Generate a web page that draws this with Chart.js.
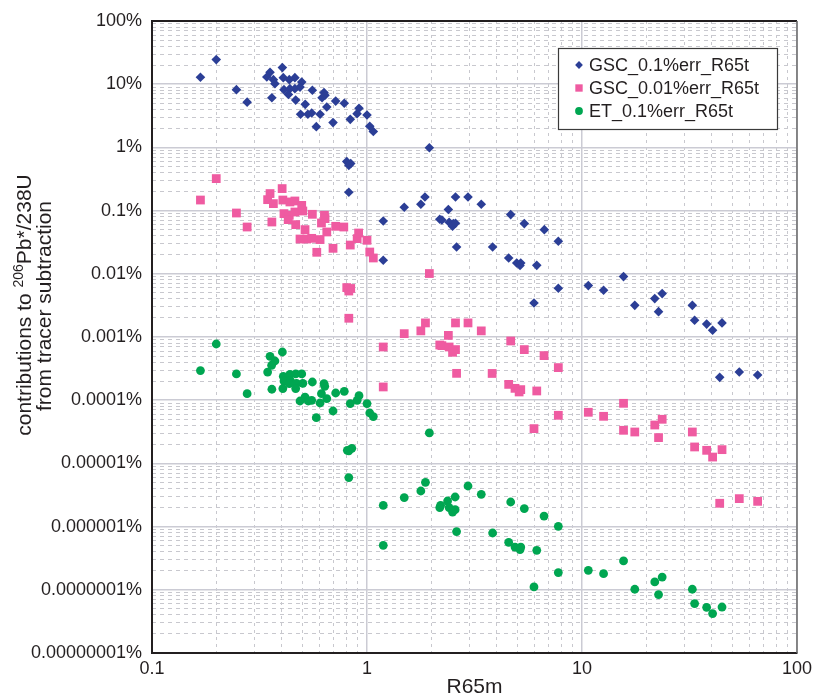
<!DOCTYPE html>
<html>
<head>
<meta charset="utf-8">
<title>R65m vs tracer subtraction contribution</title>
<script src="https://cdn.jsdelivr.net/npm/chart.js@4.4.1/dist/chart.umd.min.js"></script>
<style>
  html, body { margin: 0; padding: 0; background: #fff; }
  #wrap { width: 814px; height: 698px; position: relative; }
</style>
</head>
<body>
<div id="wrap"><canvas id="chart"></canvas></div>
<script>
// values: x = R65m, y = contribution in percent

const seriesNames = ["GSC_0.1%err_R65t", "GSC_0.01%err_R65t", "ET_0.1%err_R65t"];

const gsc01X = [
  0.168, 0.199, 0.247, 0.277, 0.354, 0.342, 0.367, 0.373, 0.404, 0.361,
  0.408, 0.435, 0.462, 0.497, 0.411, 0.438, 0.431, 0.462, 0.488, 0.466,
  0.516, 0.557, 0.491, 0.531, 0.553, 0.581, 0.605, 0.618, 0.631, 0.638,
  0.650, 0.695, 0.715, 0.784, 0.836, 0.899, 0.918, 1.0, 1.03, 1.07,
  0.805, 0.840, 0.823, 0.823, 1.95, 1.19, 1.19, 1.49, 1.78, 1.86,
  2.58, 2.95, 3.40, 2.18, 2.23, 2.39, 2.41, 2.52, 2.50, 2.58,
  2.61, 3.84, 4.56, 4.97, 5.19, 5.15, 6.16, 7.76, 7.76, 5.98,
  4.66, 5.39, 6.68,
  10.7, 12.6, 15.6, 17.6, 21.8, 23.6, 22.7, 32.6, 33.4, 38.0,
  40.5, 44.8, 43.7, 53.9, 65.6
];
const gsc01Y = [
  12.9, 24.5, 8.2, 5.2, 15.4, 13.0, 11.8, 10.2, 18.3, 6.1,
  12.7, 11.8, 12.7, 10.8, 8.2, 8.5, 6.9, 8.5, 9.0, 5.6,
  4.8, 8.0, 3.34, 3.34, 3.5, 2.13, 3.34, 6.1, 7.4, 6.7,
  4.36, 2.47, 5.4, 5.0, 2.78, 3.42, 4.16, 3.26, 2.16, 1.78,
  0.596, 0.554, 0.52, 0.195, 0.99, 0.0685, 0.0164, 0.113, 0.126, 0.164,
  0.164, 0.164, 0.126, 0.073, 0.071, 0.104, 0.0653, 0.0622, 0.0564, 0.063,
  0.0265, 0.0265, 0.0178, 0.0148, 0.0148, 0.0135, 0.0136, 0.0327, 0.0059, 0.00345,
  0.0865, 0.0623, 0.050,
  0.0065, 0.00548, 0.00903, 0.00317, 0.00405, 0.00486, 0.00252, 0.00317, 0.00184, 0.0016,
  0.00128, 0.00167, 0.00023, 0.000279, 0.00025
];

const gsc001X = [
  0.168, 0.199, 0.247, 0.277, 0.354, 0.345, 0.367, 0.361, 0.403, 0.406,
  0.438, 0.462, 0.497, 0.411, 0.435, 0.430, 0.462, 0.503, 0.466, 0.515,
  0.557, 0.488, 0.524, 0.553, 0.584, 0.605, 0.614, 0.634, 0.638, 0.650,
  0.695, 0.715, 0.78, 0.836, 0.90, 0.914, 1.0, 1.03, 1.07,
  0.805, 0.84, 0.823, 0.823, 1.95, 1.19, 1.19, 1.49, 1.78, 1.87,
  2.39, 2.58, 2.95, 3.40, 2.18, 2.23, 2.41, 2.58, 2.50, 2.61,
  3.82, 4.56, 4.88, 5.19, 5.1, 6.16, 4.66, 5.39, 6.66, 7.76,
  7.76, 5.98,
  10.7, 12.6, 15.6, 15.6, 17.6, 21.8, 23.6, 22.7, 32.6, 33.4,
  38.0, 40.5, 44.8, 43.7, 53.9, 65.6
];
const gsc001Y = [
  0.147, 0.321, 0.0916, 0.055, 0.186, 0.149, 0.129, 0.066, 0.223, 0.147,
  0.137, 0.142, 0.121, 0.0896, 0.0843, 0.072, 0.095, 0.0986, 0.060, 0.050,
  0.0874, 0.0355, 0.0355, 0.0364, 0.0219, 0.0348, 0.0637, 0.0843, 0.0747, 0.0459,
  0.0253, 0.0564, 0.055, 0.0285, 0.036, 0.0442, 0.0339, 0.0221, 0.0178,
  0.00605, 0.00586, 0.00534, 0.00198, 0.0101, 0.000695, 0.000162, 0.00113, 0.00125, 0.00167,
  0.00106, 0.00167, 0.00167, 0.00125, 0.000747, 0.00073, 0.000695, 0.000632, 0.000573, 0.000266,
  0.000265, 0.000178, 0.000154, 0.000147, 0.000135, 0.00014, 0.000865, 0.000632, 0.000508, 0.000328,
  0.0000577, 0.0000355,
  0.0000644, 0.0000556, 0.0000893, 0.0000334, 0.0000314, 0.0000405, 0.0000499, 0.0000256, 0.0000314, 0.0000182,
  0.0000161, 0.0000126, 0.0000165, 0.00000234, 0.00000277, 0.00000251
];

const et01X = [
  0.168, 0.199, 0.247, 0.277, 0.354, 0.404, 0.373, 0.36, 0.345, 0.361,
  0.408, 0.438, 0.466, 0.497, 0.411, 0.44, 0.435, 0.47, 0.503, 0.406,
  0.466, 0.557, 0.488, 0.515, 0.533, 0.553, 0.581, 0.605, 0.614, 0.631,
  0.636, 0.65, 0.695, 0.715, 0.784, 0.836, 0.90, 0.918, 1.0, 1.03,
  1.07,
  0.81, 0.85, 0.823, 0.823, 1.95, 1.19, 1.19, 1.49, 1.78, 1.87,
  2.95, 3.40, 2.57, 2.37, 2.18, 2.2, 2.41, 2.5, 2.57, 2.5,
  2.61, 3.84, 4.56, 4.88, 5.19, 5.15, 6.16, 4.66, 5.39, 6.66,
  7.76, 5.98, 7.76,
  10.7, 12.6, 15.6, 17.6, 21.8, 23.6, 22.7, 32.6, 33.4, 38.0,
  40.5, 44.8
];
const et01Y = [
  0.000294, 0.000775, 0.00026, 0.000127, 0.000495, 0.000579, 0.000417, 0.000357, 0.000279, 0.000149,
  0.000239, 0.000257, 0.00026, 0.00026, 0.000201, 0.000205, 0.000183, 0.000185, 0.000185, 0.000153,
  0.000153, 0.000194, 0.0000971, 0.000112, 0.0000971, 0.0000996, 0.000053, 0.0000903, 0.000127, 0.000183,
  0.000166, 0.000106, 0.0000675, 0.00013, 0.000138, 0.0000884, 0.0000996, 0.000118, 0.0000884, 0.0000627,
  0.000055,
  0.0000161, 0.0000173, 0.0000158, 0.00000596, 0.0000303, 0.00000217, 0.000000506, 0.00000288, 0.00000366, 0.00000502,
  0.00000439, 0.00000324, 0.00000294, 0.00000254, 0.0000020, 0.00000217, 0.0000020, 0.00000181, 0.00000185, 0.0000017,
  0.000000834, 0.000000792, 0.000000564, 0.000000475, 0.000000475, 0.000000433, 0.000000422, 0.00000245, 0.00000193, 0.00000147,
  0.00000101, 0.000000111, 0.000000187,
  0.000000203, 0.00000018, 0.000000286, 0.000000102, 0.000000133, 0.000000159, 0.0000000839, 0.000000102, 0.0000000605, 0.0000000528,
  0.000000042, 0.0000000534
];

const xTickValues = [0.1, 1, 10, 100];
const yTickValues = [1e-8, 1e-7, 1e-6, 1e-5, 1e-4, 1e-3, 1e-2, 0.1, 1, 10, 100];

const FONT = "'Liberation Sans', Arial, Helvetica, sans-serif";
const INK = "#231F20";
const MAJOR_GRID = "rgb(203,203,212)";
const MINOR_GRID = "rgb(200,200,206)";
const COLORS = ["#2B3E96", "#EF5BA1", "#00A651"];

function toPoints(xs, ys) {
  return xs.map((x, i) => ({ x: x, y: ys[i] }));
}

// 2..9 times each decade, for the dashed grid
function minorTicks(decades) {
  const out = [];
  for (let i = 0; i < decades.length - 1; i++) {
    for (let m = 2; m <= 9; m++) out.push({ value: +(m * decades[i]).toPrecision(3) });
  }
  return out;
}

function pctLabel(v) {
  const digits = Math.max(0, -Math.round(Math.log10(v)));
  return v.toFixed(digits) + "%";
}

// keep tick-label overhang from shrinking the plot area
function noPad(s) {
  s.paddingLeft = 0;
  s.paddingRight = 0;
  s.paddingTop = 0;
  s.paddingBottom = 0;
}

const framePlugin = {
  id: "frame",
  beforeDatasetsDraw(chart) {
    const { ctx, chartArea: a } = chart;
    ctx.save();
    ctx.lineWidth = 2;
    ctx.strokeStyle = INK;
    ctx.beginPath();
    ctx.moveTo(a.left, a.top);
    ctx.lineTo(a.right, a.top);
    ctx.stroke();
    ctx.lineWidth = 1.5;
    ctx.strokeStyle = "#6a6a6a";
    ctx.beginPath();
    ctx.moveTo(a.right, a.top);
    ctx.lineTo(a.right, a.bottom);
    ctx.stroke();
    ctx.restore();
  }
};

const legendRadius = [3.9, 5.2, 3.9];

const boxLegend = {
  id: "boxLegend",
  afterDraw(chart) {
    const ctx = chart.ctx;
    const box = { left: 558, top: 48, width: 219, height: 81 };
    ctx.save();
    ctx.fillStyle = "#fff";
    ctx.fillRect(box.left, box.top, box.width, box.height);
    ctx.strokeStyle = "#3a3a3a";
    ctx.lineWidth = 1.2;
    ctx.strokeRect(box.left + 0.5, box.top + 0.5, box.width, box.height);
    ctx.font = "18px " + FONT;
    ctx.textBaseline = "middle";
    ctx.textAlign = "left";
    chart.data.datasets.forEach((ds, i) => {
      const y = box.top + 17 + i * 23;
      ctx.fillStyle = ds.backgroundColor;
      Chart.helpers.drawPoint(ctx, {
        pointStyle: ds.pointStyle, radius: legendRadius[i], rotation: 0, borderWidth: 0
      }, box.left + 21, y);
      ctx.fillStyle = INK;
      ctx.fillText(ds.label, box.left + 31, y + 1);
    });
    ctx.restore();
  }
};

// rotated y title with a superscript mass number
const yTitle = {
  id: "yTitle",
  afterDraw(chart) {
    const ctx = chart.ctx;
    const big = "21px " + FONT;
    const small = "14px " + FONT;
    ctx.save();
    ctx.fillStyle = INK;
    ctx.textBaseline = "middle";
    ctx.textAlign = "left";

    // line 1
    const parts = [["contributions to ", big, 0], ["206", small, -6], ["Pb*/238U", big, 0]];
    let total = 0;
    parts.forEach(p => { ctx.font = p[1]; total += ctx.measureText(p[0]).width; });
    ctx.save();
    ctx.translate(25, 305);
    ctx.rotate(-Math.PI / 2);
    let x = -total / 2;
    parts.forEach(p => {
      ctx.font = p[1];
      ctx.fillText(p[0], x, p[2]);
      x += ctx.measureText(p[0]).width;
    });
    ctx.restore();

    // line 2
    ctx.save();
    ctx.translate(45, 306);
    ctx.rotate(-Math.PI / 2);
    ctx.font = big;
    ctx.textAlign = "center";
    ctx.fillText("from tracer subtraction", 0, 0);
    ctx.restore();

    ctx.restore();
  }
};

const tickFont = { family: FONT, size: 18 };

new Chart(document.getElementById("chart"), {
  type: "scatter",
  data: {
    datasets: [
      {
        label: seriesNames[0],
        data: toPoints(gsc01X, gsc01Y),
        pointStyle: "rectRot",
        pointRadius: 4.8,
        backgroundColor: COLORS[0],
        borderWidth: 0
      },
      {
        label: seriesNames[1],
        data: toPoints(gsc001X, gsc001Y),
        pointStyle: "rect",
        pointRadius: 6.2,
        backgroundColor: COLORS[1],
        borderWidth: 0
      },
      {
        label: seriesNames[2],
        data: toPoints(et01X, et01Y),
        pointStyle: "circle",
        pointRadius: 4.4,
        backgroundColor: COLORS[2],
        borderWidth: 0
      }
    ]
  },
  options: {
    responsive: true,
    maintainAspectRatio: false,
    animation: false,
    devicePixelRatio: 1,
    layout: { padding: { top: 21, right: 17, bottom: 0, left: 0 } },
    plugins: {
      legend: { display: false },
      tooltip: { enabled: false }
    },
    scales: {
      xMinor: {
        type: "logarithmic",
        position: "bottom",
        min: 0.1,
        max: 100,
        afterBuildTicks: (s) => { s.ticks = minorTicks(xTickValues); },
        afterFit: (s) => { s.height = 0; noPad(s); },
        ticks: { display: false },
        grid: { color: MINOR_GRID, lineWidth: 1, drawTicks: false },
        border: { display: false, dash: [3, 4] }
      },
      yMinor: {
        type: "logarithmic",
        position: "left",
        min: 1e-8,
        max: 100,
        afterBuildTicks: (s) => { s.ticks = minorTicks(yTickValues); },
        afterFit: (s) => { s.width = 0; noPad(s); },
        ticks: { display: false },
        grid: { color: MINOR_GRID, lineWidth: 1, drawTicks: false },
        border: { display: false, dash: [4, 4] }
      },
      x: {
        type: "logarithmic",
        position: "bottom",
        min: 0.1,
        max: 100,
        afterBuildTicks: (s) => { s.ticks = xTickValues.map(v => ({ value: v })); },
        afterFit: (s) => { s.height = 45; noPad(s); },
        ticks: {
          autoSkip: false,
          maxRotation: 0,
          padding: 5,
          color: INK,
          font: tickFont,
          callback: (v) => String(v)
        },
        grid: { color: MAJOR_GRID, lineWidth: 1.5, drawTicks: false },
        border: { color: INK, width: 2 },
        title: {
          display: true,
          text: "R65m",
          color: INK,
          font: { family: FONT, size: 21, lineHeight: 1 },
          padding: 0
        }
      },
      y: {
        type: "logarithmic",
        position: "left",
        min: 1e-8,
        max: 100,
        afterBuildTicks: (s) => { s.ticks = yTickValues.map(v => ({ value: v })); },
        afterFit: (s) => { s.width = 152; noPad(s); },
        ticks: {
          autoSkip: false,
          padding: 10,
          color: INK,
          font: tickFont,
          callback: (v) => pctLabel(v)
        },
        grid: { color: MAJOR_GRID, lineWidth: 1.5, drawTicks: false },
        border: { color: INK, width: 2 }
      }
    }
  },
  plugins: [framePlugin, boxLegend, yTitle]
});
</script>
</body>
</html>
